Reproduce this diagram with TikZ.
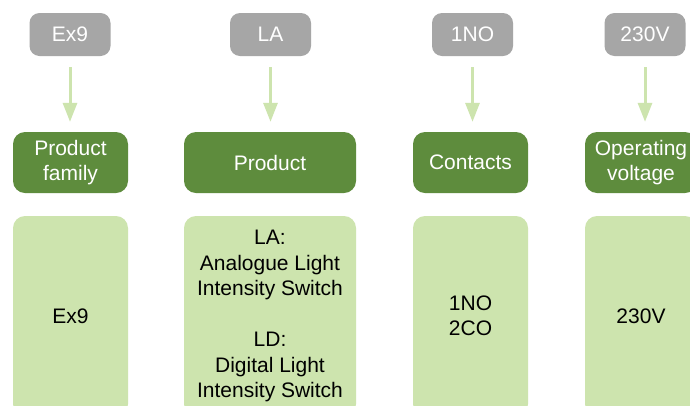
\documentclass[tikz,border=0pt]{standalone}
\usepackage{fontspec}
\setmainfont{Liberation Sans}
\usetikzlibrary{arrows.meta}
\definecolor{graybox}{HTML}{A6A6A6}
\definecolor{darkgreen}{HTML}{5E8C3D}
\definecolor{lightgreen}{HTML}{CDE4AE}
\definecolor{arrowgreen}{HTML}{CDE4AE}
\begin{document}
\begin{tikzpicture}[x=1pt,y=-1pt,
  txt/.style={font=\fontsize{21}{25.5}\selectfont, align=center, inner sep=0pt},
  graynode/.style={txt, fill=graybox, text=white, rounded corners=10pt, minimum width=81pt, minimum height=43pt},
  darknode/.style={txt, fill=darkgreen, text=white, rounded corners=12pt, minimum height=61pt},
  lightnode/.style={txt, fill=lightgreen, text=black, rounded corners=12pt, minimum height=200pt},
  conn/.style={draw=arrowgreen, line width=3pt, -{Triangle[width=14pt,length=19pt]}, shorten <=11pt, shorten >=10pt}
]
\clip (0,0) rectangle (690,405);
\fill[white] (0,0) rectangle (690,405);
% top gray nodes
\node[graynode] (g1) at (70,34.5) {Ex9};
\node[graynode] (g2) at (270.5,34.5) {LA};
\node[graynode] (g3) at (472.5,34.5) {1NO};
\node[graynode] (g4) at (645,34.5) {230V};
% dark green nodes
\node[darknode, minimum width=115pt] (d1) at (70.5,162.5) {Product\\family};
\node[darknode, minimum width=172pt] (d2) at (270,162.5) {Product};
\node[darknode, minimum width=115pt] (d3) at (470.5,162.5) {Contacts};
\node[darknode, minimum width=112pt] (d4) at (641,162.5) {Operating\\voltage};
% light green nodes
\node[lightnode, minimum width=115pt] (l1) at (70.5,316) {Ex9};
\node[lightnode, minimum width=172pt] (l2) at (270,316) {LA:\\Analogue Light\\Intensity Switch\\[25.5pt]LD:\\Digital Light\\Intensity Switch};
\node[lightnode, minimum width=115pt] (l3) at (470.5,316) {1NO\\2CO};
\node[lightnode, minimum width=112pt] (l4) at (641,316) {230V};
% connectors
\draw[conn] (g1.south) -- (g1.south |- d1.north);
\draw[conn] (g2.south) -- (g2.south |- d2.north);
\draw[conn] (g3.south) -- (g3.south |- d3.north);
\draw[conn] (g4.south) -- (g4.south |- d4.north);
\end{tikzpicture}
\end{document}
